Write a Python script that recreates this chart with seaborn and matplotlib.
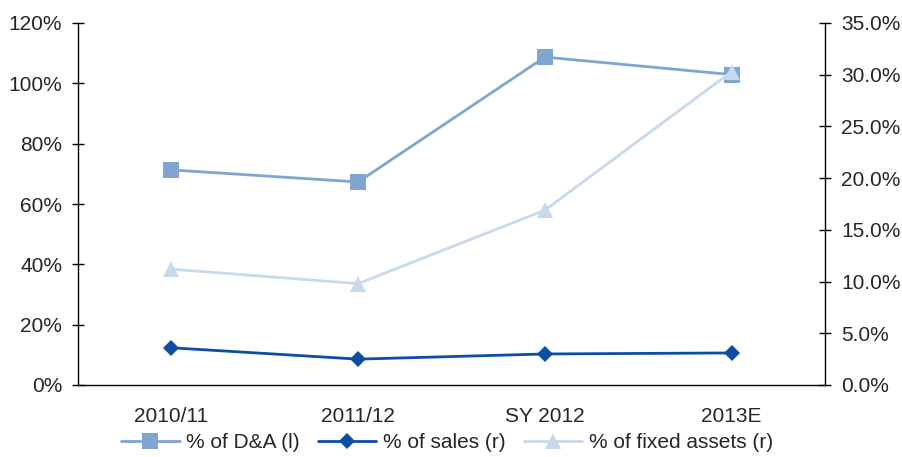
import matplotlib
matplotlib.use("Agg")
import matplotlib.pyplot as plt
from matplotlib.ticker import FuncFormatter
import pandas as pd
import seaborn as sns

periods = ["2010/11", "2011/12", "SY 2012", "2013E"]
pct_da = [71.3, 67.3, 108.7, 102.9]          # left axis, %
pct_sales = [3.6, 2.5, 3.0, 3.1]             # right axis, %
pct_fixed_assets = [11.2, 9.8, 16.9, 30.3]   # right axis, %

label_da = "% of D&A (l)"
label_sales = "% of sales (r)"
label_fixed = "% of fixed assets (r)"

c_da = "#7fa5d2"
c_sales = "#0b4ea2"
c_fixed = "#c8d9ec"

sns.set_theme(style="white")
plt.rcParams["font.family"] = ["Liberation Sans", "DejaVu Sans"]
plt.rcParams["font.size"] = 15

df = pd.DataFrame({
    "period": periods,
    "da": pct_da,
    "sales": pct_sales,
    "fixed": pct_fixed_assets,
})

fig = plt.figure(figsize=(9.02, 4.57), dpi=100)
ax = fig.add_axes([78 / 902, 1 - 385 / 457, (825 - 78) / 902, (385 - 23) / 457])
ax2 = ax.twinx()

sns.lineplot(data=df, x="period", y="da", ax=ax, color=c_da, lw=2,
             marker="s", markersize=11, markeredgewidth=0, label=label_da,
             legend=False, sort=False)
sns.lineplot(data=df, x="period", y="sales", ax=ax2, color=c_sales, lw=2,
             marker="D", markersize=8.5, markeredgewidth=0, label=label_sales,
             legend=False, sort=False)
sns.lineplot(data=df, x="period", y="fixed", ax=ax2, color=c_fixed, lw=2,
             marker="^", markersize=12, markeredgewidth=0, label=label_fixed,
             legend=False, sort=False)

ax.set_xlim(-0.5, len(periods) - 0.5)
ax.set_ylim(0, 120)
ax2.set_ylim(0, 35)
ax.set_yticks(range(0, 121, 20))
ax2.set_yticks([0, 5, 10, 15, 20, 25, 30, 35])
ax.yaxis.set_major_formatter(FuncFormatter(lambda v, _: f"{v:.0f}%"))
ax2.yaxis.set_major_formatter(FuncFormatter(lambda v, _: f"{v:.1f}%"))

# category labels centred, ticks on the boundaries between categories
ax.set_xticks(range(len(periods)))
ax.set_xticklabels(periods)
ax.set_xticks([i + 0.5 for i in range(-1, len(periods))], minor=True)
ax.tick_params(axis="x", which="major", length=0, pad=16, labelsize=15)
ax.tick_params(axis="x", which="minor", length=5, width=1, direction="out",
               color="black")
ax.set_xlabel("")
ax.set_ylabel("")
ax2.set_ylabel("")

ax.tick_params(axis="y", direction="inout", length=9, width=1, color="black",
               pad=7, labelsize=15)
ax2.tick_params(axis="y", direction="inout", length=9, width=1, color="black",
                pad=7, labelsize=15)

for a in (ax, ax2):
    a.spines["top"].set_visible(False)
    for s in ("left", "right", "bottom"):
        a.spines[s].set_color("black")
        a.spines[s].set_linewidth(1)
    a.grid(False)
ax.spines["right"].set_visible(False)
ax2.spines["left"].set_visible(False)
ax2.spines["bottom"].set_visible(False)

handles = ax.get_lines()[:1] + ax2.get_lines()[:2]
fig.legend(handles, [label_da, label_sales, label_fixed], loc="center",
           bbox_to_anchor=(447 / 902, 1 - 443 / 457), ncol=3, frameon=False,
           handlelength=2.8, handletextpad=0.3, columnspacing=0.9,
           fontsize=15, borderaxespad=0)

fig.savefig("out.png", dpi=100)
